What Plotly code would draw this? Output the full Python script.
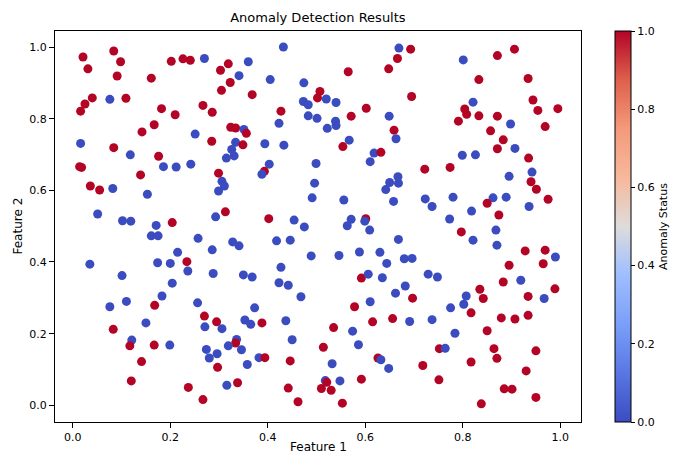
import plotly.graph_objects as go

feature1 = [
 0.021,0.084,0.098,0.031,0.091,0.161,0.202,0.226,0.040,0.025,0.016,0.076,0.109,0.182,0.210,0.167,0.142,0.016,0.084,0.118,0.176,
 0.241,0.270,0.432,0.319,0.303,0.360,0.341,0.323,0.305,0.368,0.405,0.474,0.507,0.502,0.473,0.483,0.267,0.286,0.427,0.483,0.501,0.423,0.324,0.334,0.351,0.356,0.251,0.285,0.334,0.349,0.394,0.433,0.326,0.315,0.331,
 0.669,0.693,0.666,0.648,0.565,0.520,0.540,0.695,0.602,0.571,0.649,0.539,0.540,0.522,0.659,0.663,0.567,0.554,0.618,0.632,
 0.801,0.871,0.906,0.833,0.934,0.821,0.804,0.808,0.791,0.833,0.871,0.944,0.954,0.995,0.898,0.969,0.857,0.883,0.871,0.907,0.799,0.826,0.935,
 0.014,0.018,0.186,0.212,0.139,0.036,0.055,0.082,0.153,0.051,0.102,0.119,0.171,0.204,0.161,0.175,0.215,0.234,0.035,0.174,0.200,0.236,0.101,0.204,
 0.242,0.403,0.499,0.299,0.393,0.388,0.306,0.311,0.299,0.496,0.491,0.313,0.293,0.402,0.454,0.475,0.257,0.328,0.341,0.418,0.446,0.286,0.489,0.288,0.427,0.350,0.368,0.423,0.442,
 0.610,0.722,0.774,0.667,0.650,0.668,0.642,0.556,0.658,0.723,0.737,0.780,0.773,0.571,0.563,0.601,0.599,0.609,0.668,0.546,0.588,0.630,0.644,0.680,0.696,0.729,0.748,0.592,0.606,0.635,0.682,0.662,
 0.895,0.942,0.940,0.951,0.975,0.862,0.889,0.850,0.936,0.818,0.874,0.797,0.868,0.821,0.870,0.928,0.969,0.990,0.965,0.895,0.919,0.883,0.835,0.989,
 0.183,0.076,0.110,0.168,0.150,0.083,0.121,0.117,0.167,0.199,0.141,0.120,0.237,
 0.256,0.468,0.373,0.270,0.295,0.271,0.306,0.353,0.365,0.388,0.437,0.336,0.334,0.319,0.346,0.274,0.296,0.280,0.450,0.358,0.382,0.394,0.297,0.446,0.316,0.338,0.442,0.267,0.462,0.510,
 0.697,0.610,0.578,0.775,0.535,0.615,0.656,0.691,0.737,0.574,0.514,0.586,0.752,0.764,0.626,0.632,0.532,0.648,0.718,0.518,0.521,0.548,0.592,0.751,0.530,0.553,
 0.807,0.802,0.842,0.934,0.967,0.817,0.879,0.907,0.934,0.784,0.850,0.864,0.870,0.950,0.817,0.930,0.885,0.901,0.950,0.838,
]

feature2 = [
 0.972,0.989,0.959,0.939,0.919,0.913,0.960,0.967,0.858,0.841,0.821,0.854,0.857,0.828,0.811,0.783,0.763,0.731,0.719,0.699,0.695,
 0.963,0.968,1.000,0.953,0.935,0.959,0.920,0.901,0.879,0.867,0.909,0.900,0.876,0.858,0.848,0.839,0.837,0.818,0.821,0.808,0.801,0.787,0.776,0.774,0.770,0.759,0.757,0.737,0.734,0.727,0.730,0.726,0.714,0.690,0.696,
 0.997,0.994,0.968,0.939,0.931,0.855,0.845,0.862,0.829,0.807,0.807,0.793,0.781,0.773,0.768,0.744,0.740,0.722,0.704,0.706,
 0.964,0.976,0.994,0.909,0.912,0.846,0.827,0.812,0.793,0.808,0.807,0.852,0.823,0.828,0.785,0.778,0.766,0.741,0.716,0.717,0.698,0.699,0.690,
 0.666,0.664,0.666,0.665,0.643,0.612,0.601,0.605,0.589,0.534,0.515,0.514,0.502,0.510,0.473,0.473,0.427,0.401,0.394,0.398,0.396,0.375,0.362,0.341,
 0.673,0.673,0.675,0.648,0.653,0.645,0.625,0.612,0.598,0.620,0.579,0.540,0.526,0.521,0.517,0.498,0.466,0.456,0.445,0.459,0.461,0.434,0.417,0.368,0.385,0.364,0.358,0.342,0.335,
 0.680,0.659,0.664,0.638,0.622,0.620,0.602,0.573,0.569,0.576,0.555,0.581,0.520,0.519,0.501,0.521,0.514,0.489,0.463,0.418,0.428,0.427,0.396,0.409,0.410,0.366,0.358,0.355,0.366,0.356,0.333,0.313,
 0.639,0.651,0.624,0.603,0.575,0.579,0.581,0.564,0.555,0.542,0.531,0.484,0.489,0.461,0.447,0.431,0.433,0.414,0.395,0.391,0.349,0.344,0.324,0.325,
 0.305,0.275,0.290,0.279,0.230,0.212,0.182,0.166,0.168,0.168,0.122,0.068,0.050,
 0.286,0.303,0.272,0.249,0.233,0.219,0.214,0.238,0.226,0.230,0.236,0.184,0.174,0.166,0.155,0.156,0.144,0.132,0.183,0.114,0.133,0.133,0.106,0.124,0.056,0.063,0.048,0.016,0.010,0.047,
 0.299,0.289,0.275,0.272,0.217,0.233,0.242,0.234,0.239,0.207,0.162,0.169,0.158,0.159,0.132,0.127,0.116,0.103,0.111,0.069,0.064,0.068,0.073,0.071,0.042,0.006,
 0.305,0.282,0.298,0.304,0.298,0.258,0.244,0.241,0.251,0.201,0.208,0.158,0.131,0.152,0.121,0.096,0.046,0.045,0.022,0.004,
]

status = [
 1,1,1,1,1,1,1,1,1,1,1,0,1,1,1,1,1,0,1,0,1,
 1,0,0,1,1,0,0,1,1,1,0,0,1,1,0,0,1,1,1,0,0,0,1,1,0,1,0,1,0,1,0,0,0,0,0,
 0,1,1,1,1,0,0,1,1,1,0,0,0,0,1,0,0,1,0,1,
 0,1,1,1,1,0,1,1,1,1,1,1,1,1,0,1,1,1,1,0,0,0,1,
 1,1,0,0,1,1,1,0,0,0,0,0,0,1,0,0,0,1,0,0,0,0,0,0,
 0,0,0,1,1,0,0,0,0,0,0,1,0,1,0,0,0,0,0,0,0,0,0,0,0,0,0,0,0,
 0,1,1,0,0,0,0,0,0,0,0,0,0,0,0,1,0,0,0,0,0,0,0,0,0,0,0,1,0,0,0,0,
 0,0,1,1,1,0,0,1,0,0,1,1,0,0,0,1,1,0,1,1,0,1,1,1,
 0,0,0,1,0,1,0,1,1,0,1,1,1,
 0,0,0,1,1,0,0,0,0,1,0,0,1,0,0,0,0,0,0,0,0,1,1,1,0,1,1,1,1,1,
 1,0,1,0,1,1,1,0,0,0,1,0,1,0,1,0,0,0,1,0,1,0,1,1,1,1,
 0,0,1,1,0,1,1,1,1,0,1,1,1,1,1,1,1,1,1,1,
]

colorbar_ticks = [0.0, 0.2, 0.4, 0.6, 0.8, 1.0]
axis_ticks = [0.0, 0.2, 0.4, 0.6, 0.8, 1.0]

coolwarm = [
    [0.0, "#3b4cc0"], [0.125, "#5977e3"], [0.25, "#7b9ff9"], [0.375, "#9ebeff"],
    [0.5, "#dddcdc"], [0.625, "#f7b89c"], [0.75, "#f49a7b"], [0.875, "#de604d"],
    [1.0, "#b40426"],
]

FONT = "DejaVu Sans"

fig = go.Figure()
fig.add_trace(go.Scatter(
    x=feature1, y=feature2, mode="markers",
    marker=dict(
        size=9, color=status, colorscale=coolwarm, cmin=0, cmax=1,
        line=dict(width=0),
        colorbar=dict(
            x=1.065, xanchor="left", y=0.5, yanchor="middle", len=1.0, lenmode="fraction",
            thickness=16, outlinewidth=1, outlinecolor="black", xpad=0, ypad=0,
            tickvals=colorbar_ticks, ticktext=[f"{v:.1f}" for v in colorbar_ticks],
            ticks="outside", ticklen=4, tickcolor="black",
            tickfont=dict(family=FONT, size=11, color="black"),
            title=dict(text="Anomaly Status", side="right",
                       font=dict(family=FONT, size=11, color="black")),
        ),
    ),
    hoverinfo="skip", showlegend=False,
))

fig.update_layout(
    width=675, height=455,
    margin=dict(l=55, r=94, t=31, b=33, autoexpand=False),
    paper_bgcolor="white", plot_bgcolor="white",
    font=dict(family=FONT, size=11, color="black"),
    title=dict(text="Anomaly Detection Results", x=0.471, xanchor="center",
               y=1 - 17 / 455, yanchor="middle",
               font=dict(family=FONT, size=13, color="black")),
    xaxis=dict(range=[-0.0365, 1.0425], tickvals=axis_ticks,
               ticktext=[f"{v:.1f}" for v in axis_ticks],
               showgrid=False, zeroline=False, showline=True, mirror=True,
               linecolor="black", linewidth=1, ticks="outside", ticklen=5,
               tickcolor="black", tickfont=dict(family=FONT, size=11)),
    yaxis=dict(range=[-0.0466, 1.0447], tickvals=axis_ticks,
               ticktext=[f"{v:.1f}" for v in axis_ticks],
               showgrid=False, zeroline=False, showline=True, mirror=True,
               linecolor="black", linewidth=1, ticks="outside", ticklen=5,
               tickcolor="black", tickfont=dict(family=FONT, size=11)),
    annotations=[
        dict(text="Feature 1", xref="paper", yref="paper", x=0.5, y=-0.063,
             xanchor="center", yanchor="middle", showarrow=False,
             font=dict(family=FONT, size=12, color="black")),
        dict(text="Feature 2", xref="paper", yref="paper", x=-0.0722, y=0.5,
             xanchor="center", yanchor="middle", showarrow=False, textangle=-90,
             font=dict(family=FONT, size=12, color="black")),
    ],
)

fig.write_html("out.html", config={"displayModeBar": False},
               post_script="document.body.style.margin='0';document.body.style.overflow='hidden';")
